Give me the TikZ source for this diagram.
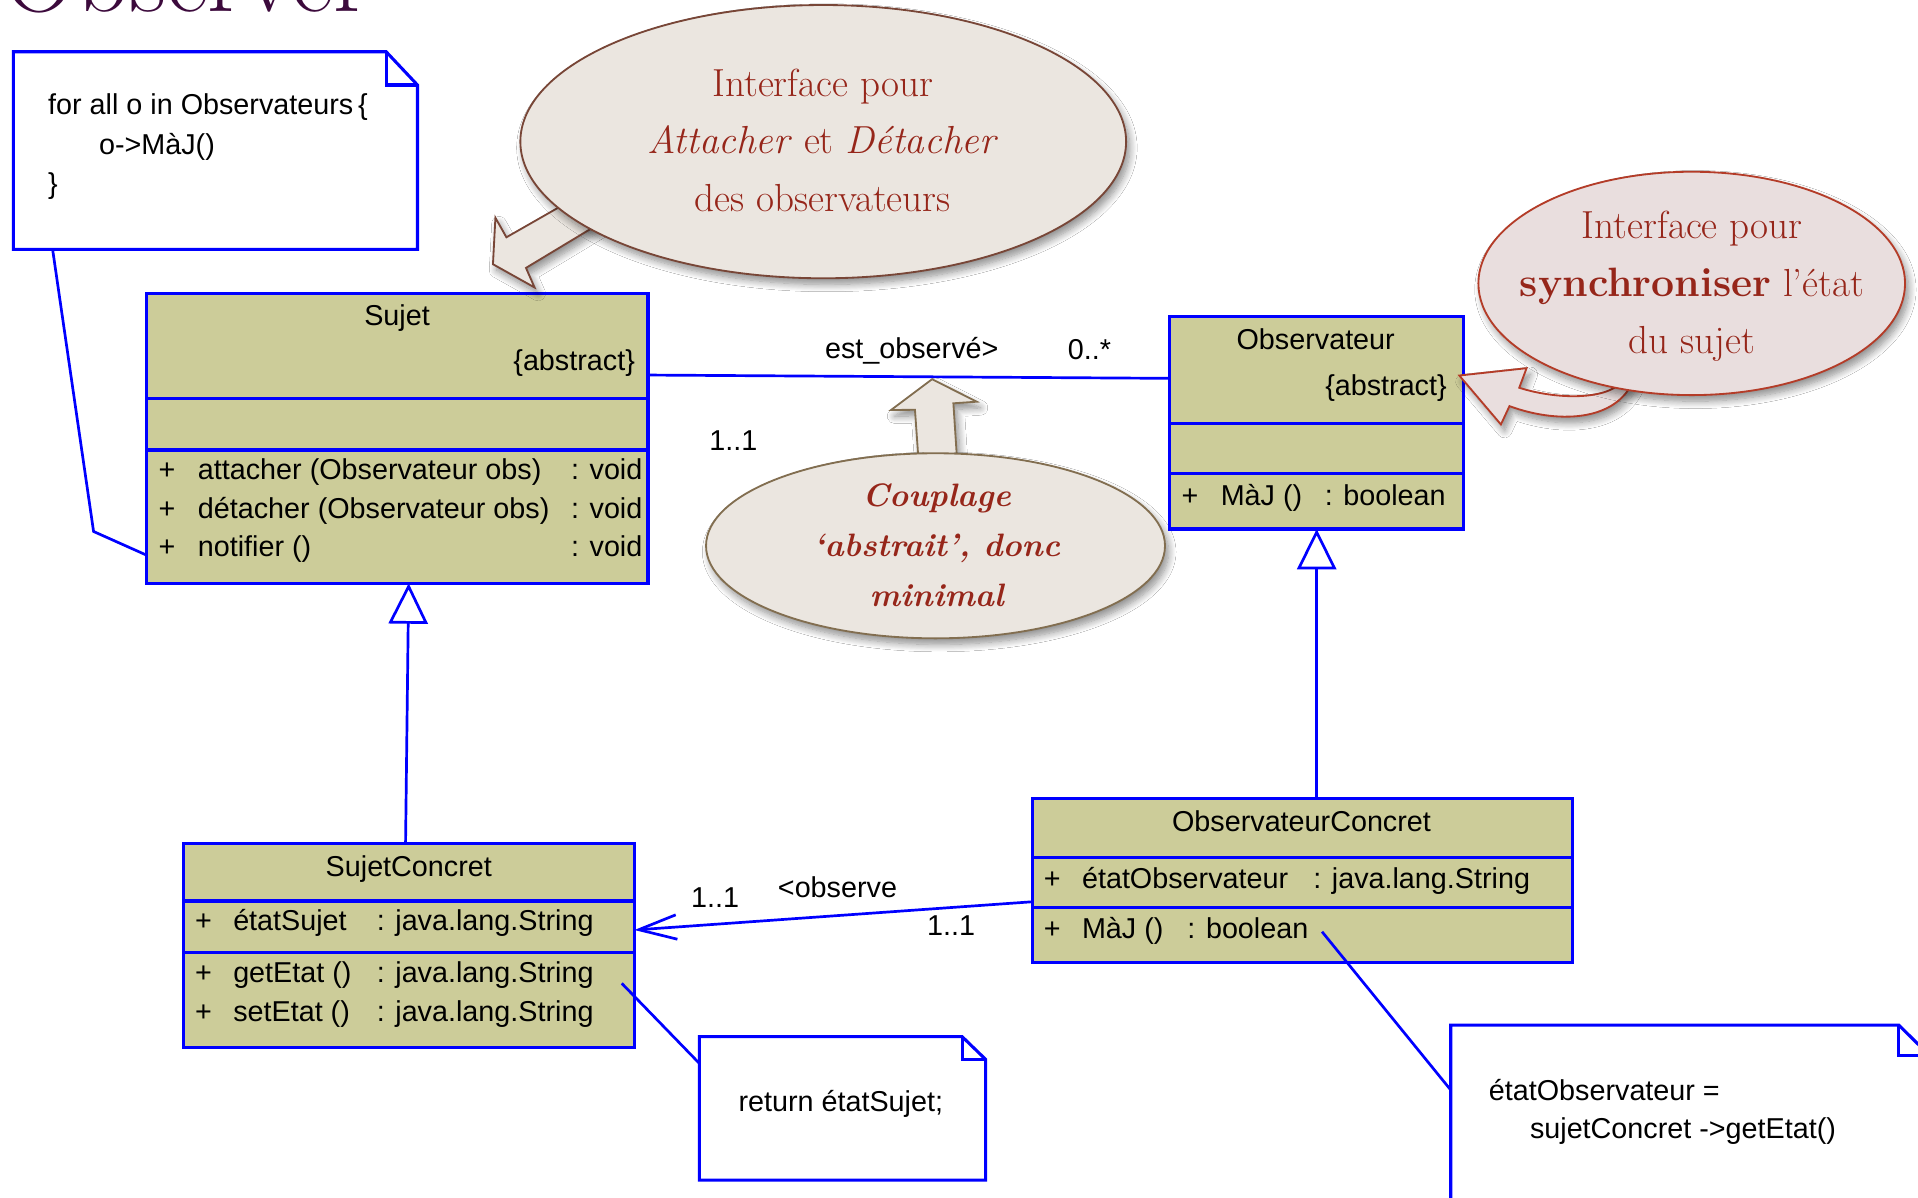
\documentclass[tikz,border=0pt]{standalone}
\usepackage{fontspec}
\usetikzlibrary{shapes.geometric,arrows.meta,shadows.blur,calc}
\newfontfamily\umlfont{Liberation Sans}
\definecolor{umlblue}{RGB}{0,0,255}
\definecolor{umlfill}{RGB}{204,204,153}
\definecolor{callfill}{RGB}{235,230,224}
\definecolor{callpink}{RGB}{233,222,222}
\definecolor{calltext}{RGB}{150,38,26}
\definecolor{edgebrown}{RGB}{120,70,55}
\definecolor{edgeolive}{RGB}{130,110,80}
\definecolor{edgered}{RGB}{180,60,40}
\definecolor{titlecol}{RGB}{60,10,60}

\tikzset{
  uml/.style={font=\umlfont\fontsize{23.5}{28}\selectfont, inner sep=0pt, outer sep=0pt},
  classbox/.style={draw=umlblue, fill=umlfill, line width=2.6pt, inner sep=0pt, outer sep=0pt, anchor=north west},
  divider/.style={draw=umlblue, line width=2.6pt},
  link/.style={draw=umlblue, line width=2.2pt},
  notebox/.style={inner sep=0pt, outer sep=0pt, anchor=north west},
  noteline/.style={draw=umlblue, fill=white, line width=2.5pt, line join=miter},
  gen/.style={link, -{Triangle[open, length=33pt, width=32pt, fill=white]}},
  nav/.style={link, -{Straight Barb[length=31pt, width=20pt]}},
  soft/.style={blur shadow={shadow xshift=3pt, shadow yshift=-5pt, shadow opacity=45, shadow blur radius=6pt, shadow blur steps=10}},
  bubble/.style={ellipse, inner sep=0pt, line width=1.5pt, soft},
  bubtext/.style={text=calltext, inner sep=0pt, anchor=base, font=\fontsize{32}{38}\selectfont},
  couptext/.style={text=calltext, inner sep=0pt, anchor=base, font=\bfseries\itshape\fontsize{26.5}{32}\selectfont},
}

\begin{document}
\begin{tikzpicture}[x=1pt,y=-1pt]
\useasboundingbox (0,0) rectangle (1568,979);
\clip (0,0) rectangle (1568,979);
\fill[white] (0,0) rectangle (1568,979);

% slide title, mostly above the frame
\node[anchor=base west, inner sep=0pt, text=titlecol, font=\fontsize{84}{90}\selectfont] (title) at (2,9) {Observer};

% ---------- class Sujet ----------
\node[classbox, minimum width=410.2pt, minimum height=237.1pt] (sujet) at (119.5,239.8) {};
\draw[divider] (119.5,325.6) -- (529.7,325.6);
\draw[divider] (119.5,367.9) -- (529.7,367.9);
\node[uml, anchor=base] (sujetname) at (324.6,265.7) {Sujet};
\node[uml, anchor=base east] (sujetabs) at (519,302.5) {\{abstract\}};
\node[uml, anchor=base west] (sop1) at (129.6,392.4) {\makebox[32.2pt][l]{+}attacher (Observateur obs)};
\node[uml, anchor=base west] (sop1t) at (466.8,392.4) {: void};
\node[uml, anchor=base west] (sop2) at (129.6,423.7) {\makebox[32.2pt][l]{+}détacher (Observateur obs)};
\node[uml, anchor=base west] (sop2t) at (466.8,423.7) {: void};
\node[uml, anchor=base west] (sop3) at (129.6,455) {\makebox[32.2pt][l]{+}notifier ()};
\node[uml, anchor=base west] (sop3t) at (466.8,455) {: void};

% ---------- class Observateur ----------
\node[classbox, minimum width=240.4pt, minimum height=173.6pt] (obs) at (956.2,258.9) {};
\draw[divider] (956.2,346.1) -- (1196.6,346.1);
\draw[divider] (956.2,387) -- (1196.6,387);
\node[uml, anchor=base] (obsname) at (1075.6,285.6) {Observateur};
\node[uml, anchor=base east] (obsabs) at (1182.7,323) {\{abstract\}};
\node[uml, anchor=base west] (oop1) at (966,412.9) {\makebox[32pt][l]{+}MàJ ()};
\node[uml, anchor=base west] (oop1t) at (1083,412.9) {: boolean};

% ---------- class SujetConcret ----------
\node[classbox, minimum width=368.7pt, minimum height=166.7pt] (sconc) at (149.9,689.5) {};
\draw[divider] (149.9,736.6) -- (518.6,736.6);
\draw[divider] (149.9,778.9) -- (518.6,778.9);
\node[uml, anchor=base] (sconcname) at (334.2,716.7) {SujetConcret};
\node[uml, anchor=base west] (sca1) at (159.6,760.3) {\makebox[31.1pt][l]{+}étatSujet};
\node[uml, anchor=base west] (sca1t) at (308,760.3) {: java.lang.String};
\node[uml, anchor=base west] (sco1) at (159.6,803.1) {\makebox[31.1pt][l]{+}getEtat ()};
\node[uml, anchor=base west] (sco1t) at (308,803.1) {: java.lang.String};
\node[uml, anchor=base west] (sco2) at (159.6,834.7) {\makebox[31.1pt][l]{+}setEtat ()};
\node[uml, anchor=base west] (sco2t) at (308,834.7) {: java.lang.String};

% ---------- class ObservateurConcret ----------
\node[classbox, minimum width=441.8pt, minimum height=134.3pt] (obsc) at (843.9,652.7) {};
\draw[divider] (843.9,700.9) -- (1285.7,700.9);
\draw[divider] (843.9,742.1) -- (1285.7,742.1);
\node[uml, anchor=base] (obscname) at (1064,680) {ObservateurConcret};
\node[uml, anchor=base west] (oca1) at (853.4,726.3) {\makebox[31.2pt][l]{+}étatObservateur};
\node[uml, anchor=base west] (oca1t) at (1073.6,726.3) {: java.lang.String};
\node[uml, anchor=base west] (oco1) at (853.4,767.2) {\makebox[31.2pt][l]{+}MàJ ()};
\node[uml, anchor=base west] (oco1t) at (970.7,767.2) {: boolean};

% ---------- relations ----------
\draw[link] (sujet.east |- 0,306.6) -- (obs.west |- 0,309.3);
\node[uml, anchor=base west] (assoclab) at (674.5,293) {est\_observé>};
\node[uml, anchor=base west] (multobs) at (873,294.3) {0..*};
\node[uml, anchor=base west] (multsuj) at (580,368) {1..1};

\draw[nav] (obsc.west |- 0,737.2) -- (sconc.east |- 0,760.3);
\node[uml, anchor=base west] (mult1) at (565,742) {1..1};
\node[uml, anchor=base west] (obslab) at (636,733.5) {<observe};
\node[uml, anchor=base west] (mult2) at (758,764.4) {1..1};

\draw[gen] ([xshift=-2.7pt]sconc.north) -- ([xshift=9.5pt]sujet.south);
\draw[gen] (obsc.north -| obs.south) -- (obs.south);

% ---------- notes ----------
\node[notebox, minimum width=330.3pt, minimum height=161.5pt] (note1) at (11,42.3) {};
\draw[noteline] (note1.north west) -- ([xshift=-25.6pt]note1.north east) -- ([yshift=-27.2pt]note1.north east) -- (note1.south east) -- (note1.south west) -- cycle;
\draw[noteline, fill=none] ([xshift=-25.6pt]note1.north east) |- ([yshift=-27.2pt]note1.north east);
\node[uml, anchor=base west] (n1a) at (39.4,94) {for all o in Observateurs\,\{};
\node[uml, anchor=base west] (n1b) at (81,125.9) {o->MàJ()};
\node[uml, anchor=base west] (n1c) at (39.4,158) {\}};

\node[notebox, minimum width=234pt, minimum height=117.2pt] (note2) at (571.7,847.5) {};
\draw[noteline] (note2.north west) -- ([xshift=-19.1pt]note2.north east) -- ([yshift=-18.5pt]note2.north east) -- (note2.south east) -- (note2.south west) -- cycle;
\draw[noteline, fill=none] ([xshift=-19.1pt]note2.north east) |- ([yshift=-18.5pt]note2.north east);
\node[uml, anchor=base] (n2a) at (687.4,908.8) {return étatSujet;};

\node[notebox, minimum width=391pt, minimum height=160pt] (note3) at (1186,838) {};
\draw[noteline] (note3.north west) -- ([xshift=-24.7pt]note3.north east) -- ([yshift=-24.5pt]note3.north east) -- (note3.south east) -- (note3.south west) -- cycle;
\draw[noteline, fill=none] ([xshift=-24.7pt]note3.north east) |- ([yshift=-24.5pt]note3.north east);
\node[uml, anchor=base west] (n3a) at (1217.2,899.3) {étatObservateur =};
\node[uml, anchor=base west] (n3b) at (1250.8,930.6) {sujetConcret ->getEtat()};

% note anchors
\coordinate (n1bend) at (76.5,434.5);
\draw[link] ([xshift=32pt]note1.south west) -- (n1bend) -- (sujet.west |- 0,453.7);
\coordinate (getEnd) at (508.3,803.9);
\draw[link] (getEnd) -- (note2.west |- 0,869.3);
\coordinate (majEnd) at (1080.8,761.7);
\draw[link] (majEnd) -- (note3.west |- 0,891.1);

% ---------- callout: attach / detach ----------
\draw[edgebrown, fill=callfill, line width=1.5pt, line join=miter, soft]
  (470,162) -- (414,194) -- (405,178) -- (403,216) -- (437,235) -- (430,219) -- (498,178) -- cycle;
\node[bubble, draw=edgebrown, fill=callfill, minimum width=495.2pt, minimum height=223.4pt] (bub1) at (673,115.8) {};
\node[bubtext] (b1l1) at (672.5,79) {Interface pour};
\node[bubtext] (b1l2) at (672.5,125.4) {\textit{Attacher} et \textit{Détacher}};
\node[bubtext] (b1l3) at (672.5,173) {des observateurs};

% ---------- callout: abstract coupling ----------
\draw[edgeolive, fill=callfill, line width=1.5pt, line join=miter, soft]
  (751.5,385) -- (748,335) -- (728.4,335.2) -- (762,310) -- (798.5,328.4) -- (779.4,329.7) -- (783,385) -- cycle;
\node[bubble, draw=edgeolive, fill=callfill, minimum width=375.2pt, minimum height=151.3pt] (bub2) at (764.8,446.2) {};
\node[couptext] (b2l1) at (765.7,414.2) {Couplage};
\node[couptext] (b2l2) at (765.7,455.1) {‘abstrait’, donc};
\node[couptext] (b2l3) at (765.7,496) {minimal};

% ---------- callout: synchronisation ----------
\draw[edgered, fill=callpink, line width=1.5pt, line join=miter, soft]
  (1326,312) .. controls (1312,328) and (1270,326) .. (1242,317) -- (1248,301) -- (1193,307)
  -- (1227,347) -- (1234,332) .. controls (1272,346) and (1318,345) .. (1334,314) -- cycle;
\node[bubble, draw=edgered, fill=callpink, minimum width=348.8pt, minimum height=182.6pt] (bub3) at (1383,231.7) {};
\node[bubtext] (b3l1) at (1383.3,194.8) {Interface pour};
\node[bubtext] (b3l2) at (1383.3,242.5) {{\fontsize{33.5}{38}\selectfont\bfseries synchroniser} l’état};
\node[bubtext] (b3l3) at (1383.3,288.9) {du sujet};
\end{tikzpicture}
\end{document}
